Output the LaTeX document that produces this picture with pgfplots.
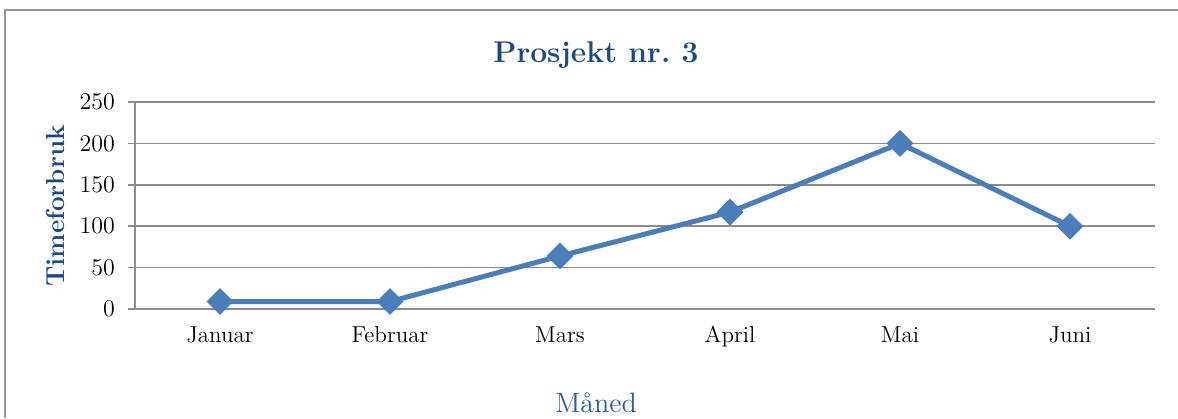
\documentclass[border=0pt]{standalone}
\usepackage{pgfplots}
\pgfplotsset{compat=1.18}
\definecolor{serie}{HTML}{4A7EBB}
\definecolor{tittel}{HTML}{1F497D}
\definecolor{aks}{HTML}{2E5B93}
\definecolor{ramme}{HTML}{969696}
\definecolor{rutenett}{HTML}{8C8C8C}

\begin{document}
\begin{tikzpicture}
% 1 px = 0.5pt
\useasboundingbox (0,0) rectangle (589pt,-209pt);
\draw[ramme, line width=0.9pt] (2.5pt,-209pt) -- (2.5pt,-5pt) -- (589pt,-5pt);
\node[anchor=base, text=tittel, font=\fontsize{15}{18}\selectfont\bfseries] at (298pt,-31pt) {Prosjekt nr.\ 3};
\node[rotate=90, text=tittel, font=\fontsize{13}{15}\selectfont\bfseries] at (27.5pt,-103pt) {Timeforbruk};
\node[anchor=base, text=aks, font=\fontsize{14}{16}\selectfont] at (298pt,-206pt) {Måned};
\begin{axis}[
  at={(67.5pt,-154.5pt)}, anchor=south west,
  scale only axis,
  width=510pt, height=103.5pt,
  xmin=-0.5, xmax=5.5,
  ymin=0, ymax=250,
  xtick={0,1,2,3,4,5},
  xticklabels={Januar,Februar,Mars,April,Mai,Juni},
  ytick={0,50,100,150,200,250},
  axis x line*=bottom, axis y line*=left,
  axis line style={rutenett, line width=0.75pt},
  ymajorgrids,
  grid style={rutenett, line width=0.75pt},
  tick align=outside,
  major tick length=3.5pt,
  x tick style={draw=none},
  y tick style={rutenett, line width=0.75pt},
  tick label style={font=\fontsize{11.5}{13}\selectfont},
  yticklabel style={xshift=-3pt},
  xticklabel style={yshift=-3pt, text height=1.6ex, text depth=0.3ex},
]
\addplot[serie, line width=2.5pt, mark=square*, mark size=3.5pt,
  mark options={rotate=45, solid, fill=serie}] coordinates
  {(0,9) (1,9) (2,64) (3,117) (4,200) (5,100)};
\end{axis}
\end{tikzpicture}
\end{document}
